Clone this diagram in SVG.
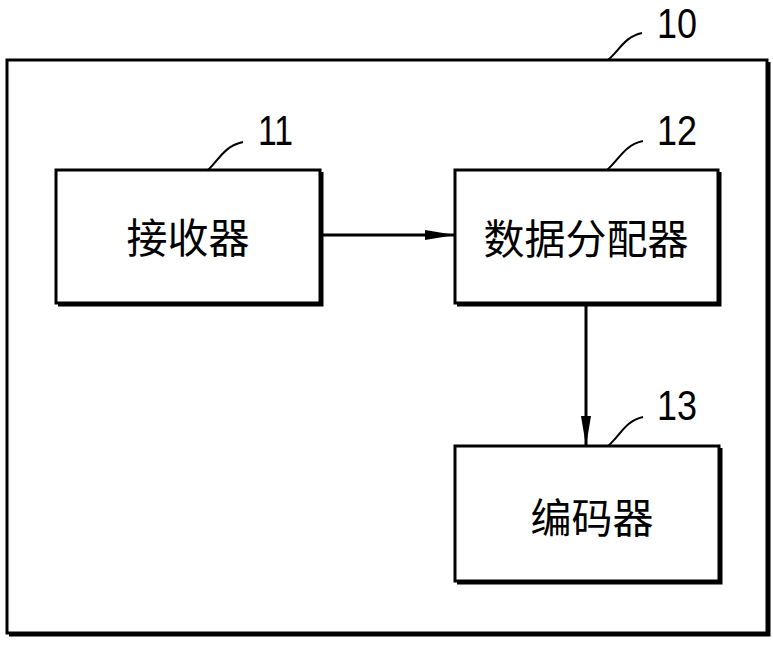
<svg xmlns="http://www.w3.org/2000/svg" width="773" height="645" viewBox="0 0 773 645">
<style>
.box{fill:#fff;stroke:#000;stroke-width:3}
.sh{fill:none;stroke:#000;stroke-width:3}
.lead{fill:none;stroke:#000;stroke-width:2}
.num{font-family:"Liberation Sans",Arial,sans-serif;font-size:42px;fill:#000}
.cjk{font-family:"Noto Sans CJK SC","Noto Sans CJK JP",sans-serif;font-size:41px;fill:#000;text-anchor:middle}
.con{fill:none;stroke:#000;stroke-width:3}
</style>
<defs>
<marker id="ah" markerUnits="userSpaceOnUse" markerWidth="32" markerHeight="14" refX="30" refY="6" orient="auto">
<path d="M0,1 L30,6 L0,11 Z" fill="#000"/>
</marker>
</defs>
<g id="n10">
<rect class="box" x="7" y="60" width="760" height="573"/>
<path class="sh" d="M9,635 H769 V62"/>
<path class="lead" d="M608,60 C620,50 624,37 642,33"/>
<text class="num" x="657" y="38" font-size="40" textLength="40" lengthAdjust="spacingAndGlyphs">10</text>
</g>
<g id="n11">
<rect class="box" x="56" y="170" width="264" height="133"/>
<path class="sh" d="M58,305 H322 V172"/>
<path class="lead" d="M208,170 C219,160 224,146 243,142"/>
<text class="num" x="258" y="145" textLength="35" lengthAdjust="spacingAndGlyphs">11</text>
<text class="cjk" x="188" y="253">接收器</text>
</g>
<g id="n12">
<rect class="box" x="455" y="170" width="263" height="133"/>
<path class="sh" d="M457,305 H720 V172"/>
<path class="lead" d="M607,170 C619,160 624,145 643,141"/>
<text class="num" x="657" y="145" textLength="40" lengthAdjust="spacingAndGlyphs">12</text>
<text class="cjk" x="586" y="254">数据分配器</text>
</g>
<g id="n13">
<rect class="box" x="455" y="446" width="264" height="135"/>
<path class="sh" d="M457,583 H721 V448"/>
<path class="lead" d="M608,446 C620,436 625,421 643,417"/>
<text class="num" x="657" y="420" textLength="40" lengthAdjust="spacingAndGlyphs">13</text>
<text class="cjk" x="592" y="533">编码器</text>
</g>
<g id="connectors">
<path class="con" d="M322,235 H455" marker-end="url(#ah)"/>
<path class="con" d="M586,305 V446" marker-end="url(#ah)"/>
</g>
</svg>
